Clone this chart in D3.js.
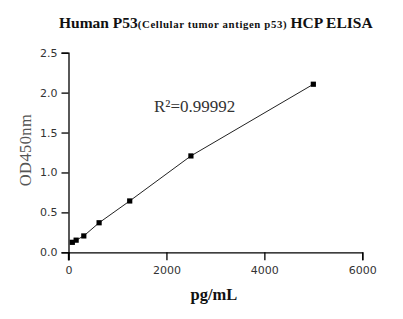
<!DOCTYPE html>
<html><head><meta charset="utf-8">
<script src="https://cdn.jsdelivr.net/npm/d3@7"></script>
<style>body{margin:0;background:#fff}svg{display:block}</style>
</head><body>
<script>
const concentrations = [78, 156, 312.5, 625, 1250, 2500, 5000];
const odValues = [0.125, 0.152, 0.205, 0.37, 0.643, 1.207, 2.105];
const xTicks = [0, 2000, 4000, 6000];
const yTicks = [0, 0.5, 1.0, 1.5, 2.0, 2.5];
const rSquared = "R²=0.99992";

const W = 403, H = 319;
const svg = d3.select("body").append("svg").attr("width", W).attr("height", H);
const x = d3.scaleLinear().domain([0, 6000]).range([68.5, 362.3]);
const y = d3.scaleLinear().domain([0, 2.5]).range([252.3, 52.7]);

const tickFont = "'DejaVu Sans', Verdana, sans-serif";
const serif = "'Liberation Serif', 'Times New Roman', serif";

// title
const t = svg.append("text").attr("x", 59).attr("y", 27.5)
  .attr("font-family", serif).attr("font-weight", "bold").attr("fill", "#111");
t.append("tspan").attr("font-size", 15.5).text("Human P53");
t.append("tspan").attr("font-size", 10.8).attr("letter-spacing", 0.6).text("(Cellular tumor antigen p53) ");
t.append("tspan").attr("font-size", 15.5).text("HCP ELISA");

// axes
const yAxis = svg.append("g").attr("transform", `translate(${x(0)},0)`)
  .call(d3.axisLeft(y).tickValues(yTicks).tickFormat(d3.format(".1f")).tickSize(7).tickPadding(4));
const xAxis = svg.append("g").attr("transform", `translate(0,${y(0)})`)
  .call(d3.axisBottom(x).tickValues(xTicks).tickFormat(d3.format("d")).tickSize(8).tickPadding(6));
[xAxis, yAxis].forEach(g => {
  g.select(".domain").attr("stroke", "#000").attr("stroke-width", 1.3);
  g.selectAll(".tick line").attr("stroke", "#000").attr("stroke-width", 1.3);
  g.selectAll(".tick text").attr("font-family", tickFont).attr("font-size", 11).attr("fill", "#333");
});
// extend y-axis below x-axis
svg.append("line").attr("x1", x(0)).attr("x2", x(0)).attr("y1", y(0)).attr("y2", y(0) + 8)
  .attr("stroke", "#000").attr("stroke-width", 1.3);

// line
const pts = concentrations.map((c, i) => [c, odValues[i]]);
svg.append("path").datum(pts)
  .attr("d", d3.line().x(d => x(d[0])).y(d => y(d[1])))
  .attr("fill", "none").attr("stroke", "#222").attr("stroke-width", 1);
svg.selectAll("rect.pt").data(pts).enter().append("rect").attr("class", "pt")
  .attr("x", d => x(d[0]) - 2.6).attr("y", d => y(d[1]) - 2.6)
  .attr("width", 5.2).attr("height", 5.2).attr("fill", "#000");

// R² annotation
svg.append("text").attr("x", 154).attr("y", 111.5).attr("font-family", serif)
  .attr("font-size", 17).attr("fill", "#333").text(rSquared);

// axis titles
svg.append("text").attr("transform", "translate(31,150) rotate(-90)")
  .attr("text-anchor", "middle").attr("font-family", serif).attr("font-size", 16.5)
  .attr("fill", "#555").attr("letter-spacing", 0.4).text("OD450nm");
svg.append("text").attr("x", 214).attr("y", 300).attr("text-anchor", "middle")
  .attr("font-family", serif).attr("font-weight", "bold").attr("font-size", 16.5)
  .attr("fill", "#111").text("pg/mL");
</script>
</body></html>
